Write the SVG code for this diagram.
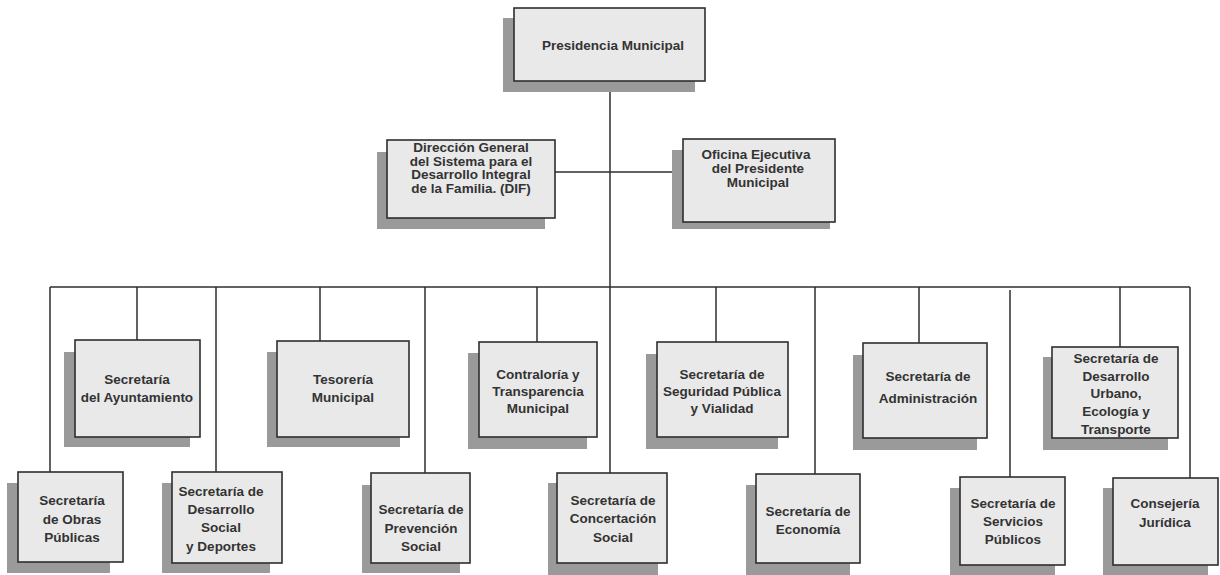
<svg xmlns="http://www.w3.org/2000/svg" width="1220" height="575" viewBox="0 0 1220 575">
<style>
.bg{fill:#ffffff}
.sh{fill:#9a9a9a}
.bx{fill:#e9e9e9;stroke:#2e2e2e;stroke-width:1.6}
.ln{stroke:#2e2e2e;stroke-width:1.5;fill:none}
text{font-family:"Liberation Sans",Arial,sans-serif;font-weight:bold;font-size:13.5px;fill:#333;text-anchor:middle;dominant-baseline:middle}
</style>
<rect class="bg" x="0" y="0" width="1220" height="575"/>
<g id="connectors">
<path class="ln" d="M610,81 V473"/>
<path class="ln" d="M555,172 H683"/>
<path class="ln" d="M50,287 H1190"/>
<path class="ln" d="M50,287 V472"/>
<path class="ln" d="M137,287 V340"/>
<path class="ln" d="M216,287 V472"/>
<path class="ln" d="M320,287 V341"/>
<path class="ln" d="M425,287 V473"/>
<path class="ln" d="M537,287 V342"/>
<path class="ln" d="M716,287 V342"/>
<path class="ln" d="M815,287 V474"/>
<path class="ln" d="M919,287 V343"/>
<path class="ln" d="M1010,290 V477"/>
<path class="ln" d="M1120,287 V347"/>
<path class="ln" d="M1190,287 V478"/>
</g>
<g id="presidencia">
<rect class="sh" x="503" y="18" width="192" height="74"/>
<rect class="bx" x="514" y="8" width="191" height="73"/>
<text x="613" y="46">Presidencia Municipal</text>
</g>
<g id="dif">
<rect class="sh" x="377" y="152" width="168" height="77"/>
<rect class="bx" x="387" y="140" width="168" height="78"/>
<text x="471" y="148">Dirección General</text>
<text x="471" y="162">del Sistema para el</text>
<text x="471" y="175">Desarrollo Integral</text>
<text x="471" y="189">de la Familia. (DIF)</text>
</g>
<g id="oficina">
<rect class="sh" x="672" y="150" width="158" height="79"/>
<rect class="bx" x="683" y="139" width="152" height="83"/>
<text x="756" y="155">Oficina Ejecutiva</text>
<text x="758" y="169">del Presidente</text>
<text x="758" y="183">Municipal</text>
</g>
<g id="ayuntamiento">
<rect class="sh" x="64" y="352" width="126" height="95"/>
<rect class="bx" x="75" y="340" width="125" height="97"/>
<text x="137" y="380">Secretaría</text>
<text x="137" y="398">del Ayuntamiento</text>
</g>
<g id="tesoreria">
<rect class="sh" x="267" y="352" width="133" height="95"/>
<rect class="bx" x="277" y="341" width="132" height="96"/>
<text x="343" y="380">Tesorería</text>
<text x="343" y="398">Municipal</text>
</g>
<g id="contraloria">
<rect class="sh" x="468" y="353" width="119" height="96"/>
<rect class="bx" x="479" y="342" width="118" height="95"/>
<text x="538" y="375">Contraloría y</text>
<text x="538" y="392">Transparencia</text>
<text x="538" y="409">Municipal</text>
</g>
<g id="seguridad">
<rect class="sh" x="646" y="354" width="132" height="95"/>
<rect class="bx" x="657" y="342" width="131" height="95"/>
<text x="722" y="375">Secretaría de</text>
<text x="722" y="392">Seguridad Pública</text>
<text x="722" y="409">y Vialidad</text>
</g>
<g id="administracion">
<rect class="sh" x="853" y="355" width="124" height="95"/>
<rect class="bx" x="863" y="343" width="124" height="95"/>
<text x="928" y="377">Secretaría de</text>
<text x="928" y="399">Administración</text>
</g>
<g id="urbano">
<rect class="sh" x="1043" y="357" width="125" height="93"/>
<rect class="bx" x="1052" y="347" width="126" height="91"/>
<text x="1116" y="359">Secretaría de</text>
<text x="1116" y="377">Desarrollo</text>
<text x="1116" y="394">Urbano,</text>
<text x="1116" y="412">Ecología y</text>
<text x="1116" y="430">Transporte</text>
</g>
<g id="obras">
<rect class="sh" x="7" y="483" width="103" height="90"/>
<rect class="bx" x="18" y="472" width="105" height="90"/>
<text x="72" y="501">Secretaría</text>
<text x="72" y="520">de Obras</text>
<text x="72" y="538">Públicas</text>
</g>
<g id="social">
<rect class="sh" x="162" y="483" width="108" height="90"/>
<rect class="bx" x="172" y="472" width="110" height="91"/>
<text x="221" y="492">Secretaría de</text>
<text x="221" y="510">Desarrollo</text>
<text x="221" y="528">Social</text>
<text x="221" y="547">y Deportes</text>
</g>
<g id="prevencion">
<rect class="sh" x="362" y="485" width="98" height="88"/>
<rect class="bx" x="371" y="473" width="99" height="90"/>
<text x="421" y="510">Secretaría de</text>
<text x="421" y="529">Prevención</text>
<text x="421" y="547">Social</text>
</g>
<g id="concertacion">
<rect class="sh" x="548" y="483" width="110" height="92"/>
<rect class="bx" x="557" y="473" width="110" height="90"/>
<text x="613" y="501">Secretaría de</text>
<text x="613" y="519">Concertación</text>
<text x="613" y="538">Social</text>
</g>
<g id="economia">
<rect class="sh" x="746" y="485" width="104" height="90"/>
<rect class="bx" x="756" y="474" width="104" height="89"/>
<text x="808" y="512">Secretaría de</text>
<text x="808" y="530">Economía</text>
</g>
<g id="servicios">
<rect class="sh" x="950" y="488" width="105" height="87"/>
<rect class="bx" x="960" y="477" width="105" height="88"/>
<text x="1013" y="504">Secretaría de</text>
<text x="1013" y="522">Servicios</text>
<text x="1013" y="540">Públicos</text>
</g>
<g id="consejeria">
<rect class="sh" x="1103" y="488" width="105" height="87"/>
<rect class="bx" x="1113" y="478" width="105" height="87"/>
<text x="1165" y="504">Consejería</text>
<text x="1165" y="523">Jurídica</text>
</g>
</svg>
